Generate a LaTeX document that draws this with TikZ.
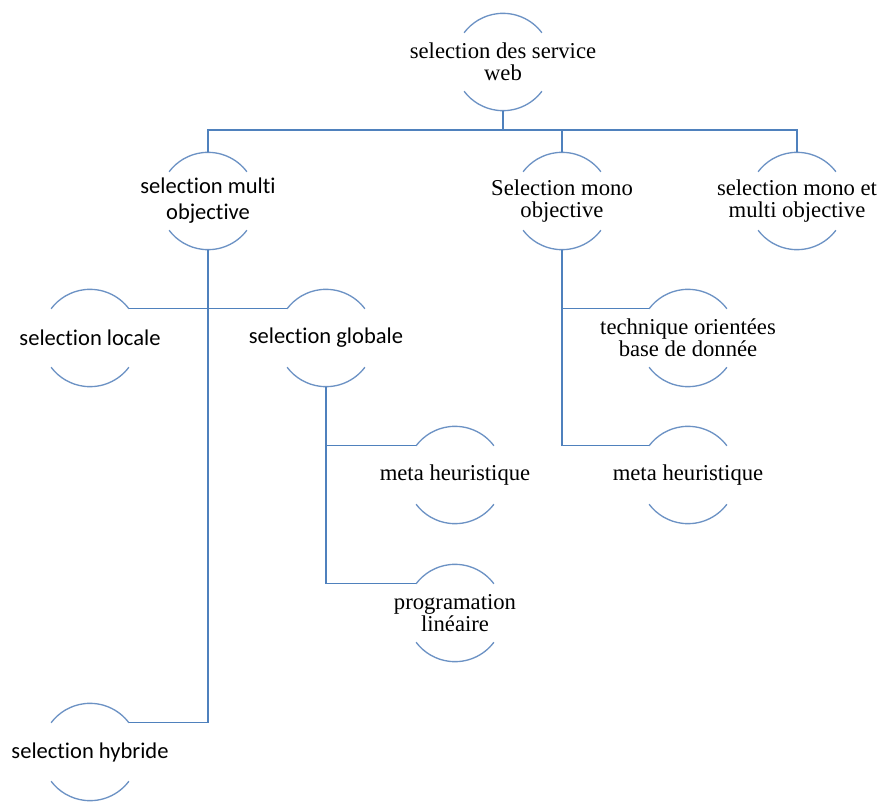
\documentclass[tikz,border=0pt]{standalone}
\usepackage{fontspec}
\setmainfont{Liberation Serif}
\newfontfamily\calibrifont[RawFeature={-liga}]{Carlito}

\definecolor{linkblue}{RGB}{79,129,189}
\definecolor{arcblue}{RGB}{108,146,196}

\tikzset{
  bubble/.style={circle, minimum size=73pt, inner sep=0pt, outer sep=0pt},
  sertext/.style={align=center, font=\fontsize{17}{16.5}\selectfont},
  santext/.style={align=center, font=\calibrifont\fontsize{16.9}{19.5}\selectfont},
  link/.style={line width=1.1pt, color=linkblue},
  arcline/.style={line width=1pt, color=arcblue}
}

\begin{document}
\begin{tikzpicture}[x=0.75pt, y=-0.75pt]
        \useasboundingbox (0,0) rectangle (879,803);

        % top
        \node[bubble, label={[sertext]center:{selection des service\\web}}] (root) at (503,62) {};

        % second row
        \node[bubble, label={[santext]center:{selection multi\\objective}}] (multi) at (208,201) {};
        \node[bubble, label={[sertext]center:{Selection mono\\objective}}] (mono) at (562,201) {};
        \node[bubble, label={[sertext]center:{selection mono et\\multi objective}}] (monomulti) at (797,201) {};

        % under multi objective
        \node[bubble, label={[santext]center:selection locale}] (locale) at (90,338) {};
        \node[bubble, label={[santext]center:selection globale}] (globale) at (326,338) {};
        \node[bubble, label={[santext]center:selection hybride}] (hybride) at (90,752) {};
        \node[bubble, label={[sertext]center:meta heuristique}] (metaA) at (455,475) {};
        \node[bubble, label={[sertext]center:{programation\\lin\'eaire}}] (prog) at (455,613) {};

        % under mono objective
        \node[bubble, label={[sertext]center:{technique orient\'ees\\base de donn\'ee}}] (technique) at (688,338) {};
        \node[bubble, label={[sertext]center:meta heuristique}] (metaB) at (688,475) {};

        % arcs
        \foreach \n in {root,multi,mono,monomulti,locale,globale,hybride,metaA,prog,technique,metaB}{
            \draw[arcline] (\n.37) arc[start angle=37, end angle=143, radius=36.5pt];
            \draw[arcline] (\n.-37) arc[start angle=-37, end angle=-143, radius=36.5pt];
        }

        % links
        \coordinate (bus) at (503,130);
        \draw[link] (root.south) -- (bus);
        \draw[link] (multi.north) |- (bus) -| (monomulti.north);
        \draw[link] (mono.north) -- (mono.north |- bus);

        \draw[link] (multi.south) |- (hybride.37);
        \draw[link] (locale.37) -- (globale.143);

        \draw[link] (globale.south) |- (prog.143);
        \draw[link] (globale.south |- metaA.143) -- (metaA.143);

        \draw[link] (mono.south) |- (metaB.143);
        \draw[link] (mono.south |- technique.143) -- (technique.143);
    \end{tikzpicture}
\end{document}
